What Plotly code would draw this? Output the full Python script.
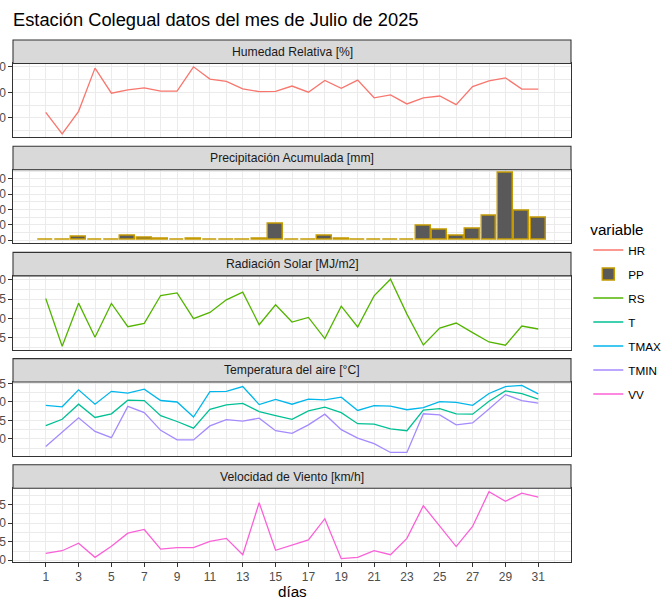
import plotly.graph_objects as go

dias = list(range(1, 32))
HR = [82.2, 73.8, 82.6, 99.5, 89.7, 91.0, 91.8, 90.5, 90.5, 100.0, 95.2, 94.3, 91.4, 90.3, 90.4,
      92.5, 90.1, 94.7, 91.6, 94.8, 87.9, 89.0, 85.5, 87.9, 88.6, 85.2, 92.3, 94.5, 95.7, 91.3, 91.3]
PP = [0.2, 0.2, 1.9, 0.2, 0.2, 2.6, 1.3, 0.9, 0.1, 0.6, 0.3, 0.2, 0.2, 0.8, 10.8,
      0.2, 0.2, 3.0, 0.8, 0.2, 0.2, 0.2, 0.2, 9.5, 6.7, 3.0, 7.7, 15.7, 43.9, 19.1, 14.6]
RS = [7.59, 1.38, 6.98, 2.54, 6.94, 3.92, 4.35, 7.97, 8.32, 4.96, 5.78, 7.41, 8.41, 4.18, 6.77,
      4.53, 5.13, 2.37, 6.59, 3.88, 7.93, 10.09, 5.56, 1.55, 3.75, 4.40, 3.15, 1.94, 1.51, 4.01, 3.62]
T = [3.6, 5.3, 9.4, 5.8, 6.8, 10.5, 10.4, 6.3, 4.7, 2.9, 8.0, 9.2, 9.6, 7.4, 6.3,
     5.3, 7.6, 8.6, 7.1, 4.1, 4.0, 2.7, 2.2, 7.8, 8.2, 6.8, 6.7, 10.2, 13.0, 12.3, 10.8]
TMAX = [9.1, 8.7, 13.3, 9.4, 12.9, 12.4, 13.5, 10.4, 10.0, 5.9, 12.8, 12.9, 14.2, 9.3, 10.7,
        9.4, 10.8, 10.6, 11.3, 7.7, 9.0, 8.9, 7.9, 8.5, 10.1, 9.9, 9.1, 12.3, 14.2, 14.5, 12.2]
TMIN = [-2.1, 1.8, 5.7, 2.0, 0.3, 8.8, 7.1, 2.3, -0.3, -0.3, 3.5, 5.2, 4.8, 5.6, 2.2,
        1.5, 3.8, 6.7, 2.5, 0.2, -1.3, -3.7, -3.7, 6.8, 6.5, 3.8, 4.3, 8.1, 12.0, 10.4, 9.7]
VV = [1.86, 2.57, 4.6, 0.8, 3.8, 7.3, 8.3, 3.0, 3.4, 3.4, 5.1, 5.9, 1.5, 15.5, 2.7,
      4.1, 5.5, 11.2, 0.44, 0.8, 2.6, 1.5, 5.9, 14.7, 9.1, 3.7, 9.1, 18.5, 15.9, 18.1, 17.0]

panel_titles = ["Humedad Relativa [%]", "Precipitación Acumulada [mm]", "Radiación Solar [MJ/m2]",
                "Temperatura del aire [°C]", "Velocidad de Viento [km/h]"]
x_ticks = list(range(1, 32, 2))
y_ticks = [[80, 90, 100], [0, 10, 20, 30, 40], [2.5, 5.0, 7.5, 10.0], [0, 5, 10, 15], [0, 5, 10, 15]]
y_ticktext = [["80", "90", "100"], ["0", "10", "20", "30", "40"], ["2.5", "5.0", "7.5", "10.0"],
              ["0", "5", "10", "15"], ["0", "5", "10", "15"]]

colors = {"HR": "#F8766D", "PP": "#C49A00", "RS": "#53B400", "T": "#00C094",
          "TMAX": "#00B6EB", "TMIN": "#A58AFF", "VV": "#FB61D7"}

W, H = 661, 597
L, R, TOP, BOT = 13, 90, 39.5, 35
ph = H - TOP - BOT
step, blockh, striph = 106.3, 97.3, 23.5

def py(y):
    return (H - BOT - y) / ph

FONT = "Liberation Sans, Arial, sans-serif"
fig = go.Figure()

def line(name, y, idx):
    fig.add_trace(go.Scatter(x=dias, y=y, mode="lines", name=name, legendgroup=name,
                             line=dict(color=colors[name], width=1.3),
                             xaxis="x" if idx == 1 else f"x{idx}",
                             yaxis="y" if idx == 1 else f"y{idx}"))

line("HR", HR, 1)
fig.add_trace(go.Bar(x=dias, y=PP, name="PP", legendgroup="PP", width=0.9,
                     marker=dict(color="#595959", line=dict(color=colors["PP"], width=1.5)),
                     xaxis="x2", yaxis="y2"))
line("RS", RS, 3)
line("T", T, 4)
line("TMAX", TMAX, 4)
line("TMIN", TMIN, 4)
line("VV", VV, 5)

series_for_range = [[HR], [PP + [0]], [RS], [T, TMAX, TMIN], [VV]]

layout = {}
shapes = []
annotations = []
for i in range(5):
    top = TOP + step * i
    sb = top + striph
    pb = top + blockh
    vals = [v for s in series_for_range[i] for v in s]
    lo, hi = min(vals), max(vals)
    pad = (hi - lo) * 0.05
    ticks = y_ticks[i]
    d = ticks[1] - ticks[0]
    minor = [t + d / 2 for t in [ticks[0] - d] + ticks]
    minor = [m for m in minor if lo - pad <= m <= hi + pad]
    suffix = "" if i == 0 else str(i + 1)
    layout["xaxis" + suffix] = dict(
        domain=[0, 1], anchor="y" + suffix, range=[-0.995, 32.995],
        tickvals=x_ticks, ticktext=[str(v) for v in x_ticks],
        showticklabels=(i == 4), ticks="outside" if i == 4 else "", ticklen=3.7,
        tickcolor="#333333", tickwidth=1,
        tickfont=dict(family=FONT, size=12, color="#4D4D4D"),
        showgrid=True, gridcolor="#EBEBEB", gridwidth=1.07,
        minor=dict(tickvals=list(range(0, 33, 2)), showgrid=True, gridcolor="#EBEBEB", gridwidth=0.55),
        showline=True, mirror=True, linecolor="#333333", linewidth=1.07, zeroline=False,
    )
    layout["yaxis" + suffix] = dict(
        domain=[py(pb), py(sb)], anchor="x" + suffix, range=[lo - pad, hi + pad],
        tickvals=ticks, ticktext=y_ticktext[i], ticks="outside", ticklen=3.7,
        tickcolor="#333333", tickwidth=1,
        tickfont=dict(family=FONT, size=12, color="#4D4D4D"),
        showgrid=True, gridcolor="#EBEBEB", gridwidth=1.07,
        minor=dict(tickvals=minor, showgrid=True, gridcolor="#EBEBEB", gridwidth=0.55),
        showline=True, mirror=True, linecolor="#333333", linewidth=1.07, zeroline=False,
    )
    shapes.append(dict(type="rect", xref="paper", yref="paper", x0=0, x1=1, y0=py(sb), y1=py(top),
                       fillcolor="#D9D9D9", line=dict(color="#333333", width=1.07), layer="above"))
    annotations.append(dict(text=panel_titles[i], xref="paper", yref="paper", x=0.5, y=py(top + striph / 2),
                            xanchor="center", yanchor="middle", showarrow=False,
                            font=dict(family=FONT, size=12.2, color="#1A1A1A")))

annotations.append(dict(text="días", xref="paper", yref="paper", x=0.5, y=py(591.5),
                        xanchor="center", yanchor="middle", showarrow=False,
                        font=dict(family=FONT, size=15.2, color="#000000")))

fig.update_layout(**layout)
fig.update_layout(
    width=W, height=H, plot_bgcolor="white", paper_bgcolor="white",
    margin=dict(l=L, r=R, t=TOP, b=BOT, autoexpand=False),
    shapes=shapes, annotations=annotations, bargap=0,
    title=dict(text="Estación Colegual datos del mes de Julio de 2025", xref="container", yref="container",
               x=13 / W, y=1 - 20 / H, xanchor="left", yanchor="middle",
               font=dict(family=FONT, size=18.3, color="#000000")),
    legend=dict(x=1.031, xanchor="left", y=py(312), yanchor="middle",
                title=dict(text="variable", font=dict(family=FONT, size=15.2, color="#000000")),
                font=dict(family=FONT, size=11.7, color="#000000"),
                tracegroupgap=5, itemwidth=30, bgcolor="rgba(0,0,0,0)"),
    showlegend=True,
)
fig.write_html("out.html", config={"displayModeBar": False},
               post_script="document.body.style.margin='0';document.body.style.padding='0';")
